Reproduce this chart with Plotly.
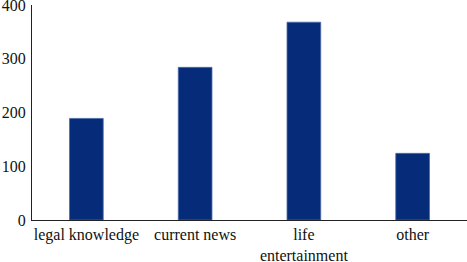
import plotly.graph_objects as go

categories = ["legal knowledge", "current news", "life<br>entertainment", "other"]
values = [189, 284, 368, 124]
y_ticks = [0, 100, 200, 300, 400]

fig = go.Figure(go.Bar(
    x=categories, y=values,
    marker=dict(color="#062c79", line=dict(color="#4a6aa8", width=0.8)),
    width=0.31,
))
font = dict(family="Liberation Serif, Times New Roman, serif", size=16, color="#111")
fig.update_layout(
    width=467, height=262,
    margin=dict(l=32, r=0, t=5, b=42, autoexpand=False),
    paper_bgcolor="white", plot_bgcolor="white",
    font=font, showlegend=False,
)
fig.update_xaxes(showline=True, linecolor="#222", linewidth=1.2, ticks="",
                 showgrid=False, range=[-0.5, 3.5], tickfont=font, automargin=False)
fig.update_yaxes(showline=True, linecolor="#222", linewidth=1.2, ticks="",
                 showgrid=False, range=[0, 400], tickvals=y_ticks, zeroline=False,
                 tickfont=font, ticklabelstandoff=2, automargin=False,
                 ticklabeloverflow="allow")
fig.write_html("out.html", config={"displayModeBar": False},
               post_script="document.body.style.margin='0';document.body.style.overflow='hidden';")
